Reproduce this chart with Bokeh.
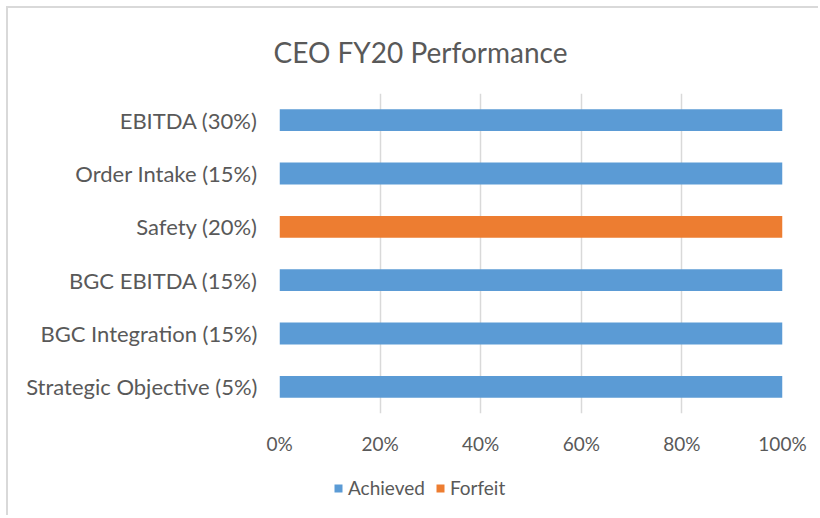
from bokeh.plotting import figure
from bokeh.layouts import column
from bokeh.models import Legend, LegendItem, NumeralTickFormatter, FixedTicker, Range1d
from bokeh.embed import file_html
from bokeh.resources import INLINE

categories = ["Strategic Objective (5%)", "BGC Integration (15%)", "BGC EBITDA (15%)",
              "Safety (20%)", "Order Intake (15%)", "EBITDA (30%)"]
achieved = [1.0, 1.0, 1.0, 0.0, 1.0, 1.0]
forfeit = [0.0, 0.0, 0.0, 1.0, 0.0, 0.0]
x_ticks = [0, 0.2, 0.4, 0.6, 0.8, 1.0]
series = ["Achieved", "Forfeit"]
colors = ["#5B9BD5", "#ED7D31"]

FONT = "Lato"
TXT = "#595959"
W = 810

p = figure(y_range=categories, x_range=Range1d(0, 1), width=W, height=452,
           output_backend="svg", toolbar_location=None,
           min_border_left=271, min_border_right=36, min_border_top=83, min_border_bottom=47)
p.title.text = "CEO FY20 Performance"
p.title.align = "left"
p.title.offset = -6
p.title.text_font = FONT
p.title.text_font_size = "28px"
p.title.text_font_style = "normal"
p.title.text_color = TXT
p.title.standoff = 49

src = dict(y=categories, Achieved=achieved, Forfeit=forfeit)
r = p.hbar_stack(series, y="y", height=0.41, color=colors, source=src, line_color=None)

p.outline_line_color = None
p.ygrid.grid_line_color = None
p.xgrid.grid_line_color = "#D9D9D9"
p.xgrid.grid_line_width = 1.5
p.xaxis.ticker = FixedTicker(ticks=x_ticks)
p.xaxis.formatter = NumeralTickFormatter(format="0%")
for ax in (p.xaxis[0], p.yaxis[0]):
    ax.axis_line_color = None
    ax.major_tick_line_color = None
    ax.minor_tick_line_color = None
    ax.major_label_text_font = FONT
    ax.major_label_text_color = TXT
    ax.major_label_text_font_size = "19px"
p.yaxis.major_label_text_font_size = "22px"
p.xaxis.major_label_standoff = 12
p.yaxis.major_label_standoff = 16

# legend in a separate strip below the chart (frames are aligned by the column)
p2 = figure(width=W, height=55, x_range=Range1d(0, 1), y_range=Range1d(0, 1),
            x_axis_type=None, y_axis_type=None, output_backend="svg", toolbar_location=None,
            min_border=0)
p2.outline_line_color = None
p2.xgrid.visible = False
p2.ygrid.visible = False
sw = [p2.hbar(y=[0], left=[0], right=[0], height=0.0, color=c, line_color=None) for c in colors]
legend = Legend(items=[LegendItem(label=s, renderers=[rr]) for s, rr in zip(series, sw)],
                orientation="horizontal", location=(54, 16),
                label_text_font=FONT, label_text_color=TXT, label_text_font_size="19px",
                glyph_width=10, glyph_height=10, spacing=10, label_standoff=5,
                border_line_color=None, background_fill_alpha=0, padding=2, margin=0)
p2.add_layout(legend, "center")

layout = column(p, p2, spacing=0)
layout.styles = {"border-top": "2px solid #D9D9D9", "border-left": "2px solid #D9D9D9",
                 "border-right": "0px none", "border-bottom": "0px none",
                 "margin-left": "6px", "margin-top": "6px"}

open("out.html", "w").write(file_html(layout, INLINE))
